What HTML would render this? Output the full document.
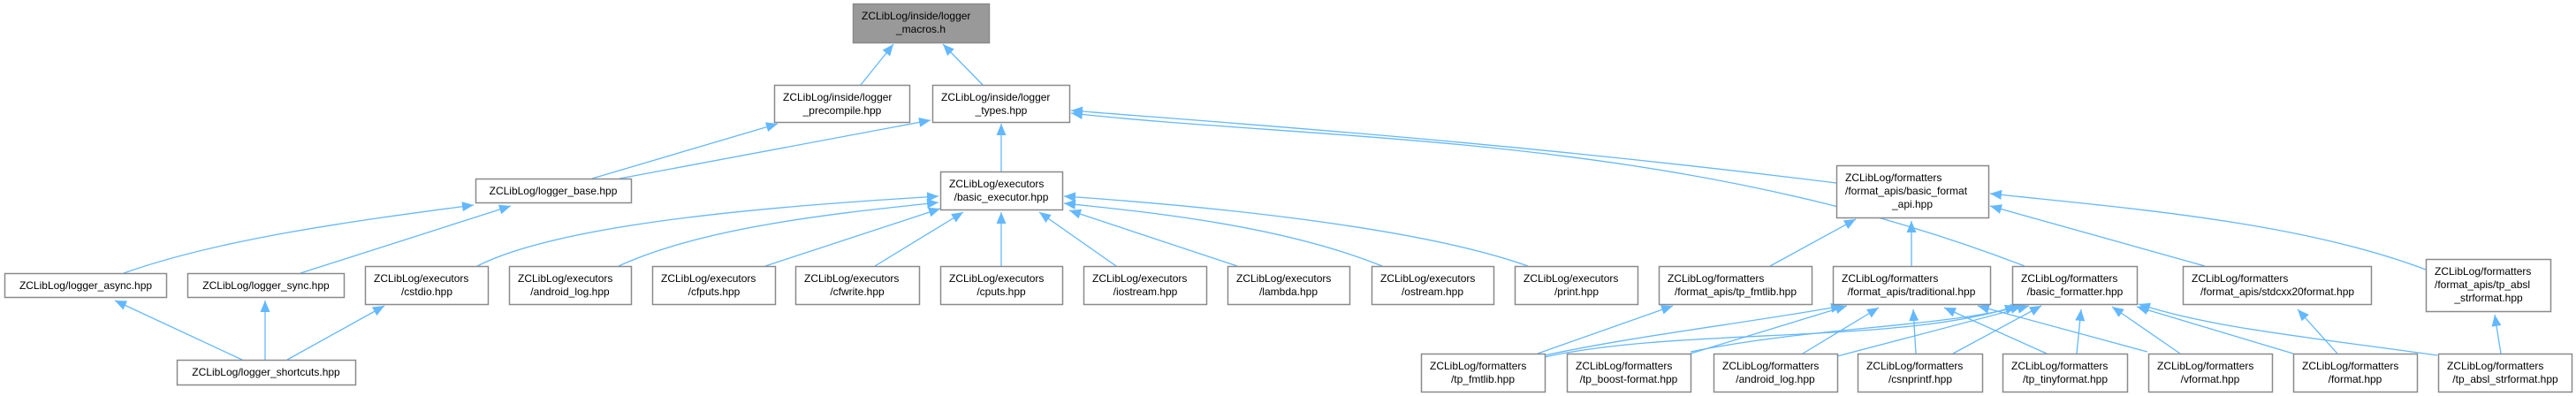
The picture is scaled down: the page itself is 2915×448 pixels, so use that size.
<!DOCTYPE html>
<html><head><meta charset="utf-8"><style>
html,body{margin:0;padding:0;background:#fff;}
svg{display:block;}
text{font-family:"Liberation Sans",Arial,sans-serif;font-size:12px;fill:#000;}
</style></head><body>
<svg width="2915" height="448" viewBox="0 0 2915 448" xmlns="http://www.w3.org/2000/svg">
<defs>
<marker id="a" markerUnits="userSpaceOnUse" markerWidth="14" markerHeight="12" refX="13" refY="5.5" orient="auto">
<path d="M0,0 L13,5.5 L0,11 z" fill="#63b8ff"/>
</marker>
</defs>
<g fill="none" stroke="#63b8ff" stroke-width="1.3" marker-end="url(#a)">
<path d="M974,96 L1011,50"/>
<path d="M1112,96 L1067,50"/>
<path d="M670,202 L880,140"/>
<path d="M701,202 L1053,136"/>
<path d="M1133,194 L1133,140"/>
<path d="M2078,207 C1700,160 1400,140 1212,125"/>
<path d="M2291,301 C1900,150 1500,160 1212,128"/>
<path d="M140,309 C250,270 400,250 536,232"/>
<path d="M340,309 L578,233"/>
<path d="M274,407 L130,340"/>
<path d="M300,407 L300,340"/>
<path d="M325,407 L435,346"/>
<path d="M540,301 C640,250 900,232 1062,222"/>
<path d="M700,301 C800,255 960,240 1062,229"/>
<path d="M866,301 L1064,236"/>
<path d="M990,301 L1090,240"/>
<path d="M1133,301 L1133,240"/>
<path d="M1263,301 L1176,240"/>
<path d="M1400,301 L1210,238"/>
<path d="M1564,301 C1450,255 1300,240 1204,230"/>
<path d="M1729,301 C1600,255 1350,232 1204,222"/>
<path d="M2003,301 L2100,248"/>
<path d="M2163,301 L2163,250"/>
<path d="M2495,301 L2252,233"/>
<path d="M2745,305 C2600,250 2400,235 2252,219"/>
<path d="M1740,400 L1893,346"/>
<path d="M1748,402 C1850,380 1980,365 2085,346"/>
<path d="M1748,404 C1900,370 2150,390 2282,346"/>
<path d="M1913,400 L2090,346"/>
<path d="M1913,398 C2050,370 2200,370 2288,346"/>
<path d="M2040,400 L2126,348"/>
<path d="M2079,403 L2296,346"/>
<path d="M2168,400 L2165,350"/>
<path d="M2210,400 L2310,346"/>
<path d="M2316,400 L2200,348"/>
<path d="M2350,400 L2355,350"/>
<path d="M2430,398 L2238,346"/>
<path d="M2467,400 L2390,347"/>
<path d="M2595,400 L2418,347"/>
<path d="M2645,400 L2600,350"/>
<path d="M2758,402 C2600,380 2500,370 2420,344"/>
<path d="M2830,400 L2823,356"/>
</g>
<g stroke="#8a8a8a" stroke-width="1.5" fill="#fff">
<rect x="965.5" y="4.5" width="154" height="44" fill="#999"/>
<rect x="876.5" y="96.5" width="153" height="42"/>
<rect x="1055.5" y="96.5" width="155" height="42"/>
<rect x="538.5" y="202.5" width="176" height="27"/>
<rect x="1064.5" y="194.5" width="138" height="43"/>
<rect x="2078.5" y="187.5" width="172" height="59"/>
<rect x="5.5" y="309.5" width="183" height="27"/>
<rect x="212.5" y="309.5" width="177" height="27"/>
<rect x="413.5" y="301.5" width="139" height="43"/>
<rect x="576.5" y="301.5" width="138" height="43"/>
<rect x="738.5" y="301.5" width="139" height="43"/>
<rect x="900.5" y="301.5" width="140" height="43"/>
<rect x="1064.5" y="301.5" width="138" height="43"/>
<rect x="1226.5" y="301.5" width="139" height="43"/>
<rect x="1389.5" y="301.5" width="138" height="43"/>
<rect x="1552.5" y="301.5" width="138" height="43"/>
<rect x="1714.5" y="301.5" width="139" height="43"/>
<rect x="1877.5" y="301.5" width="173" height="43"/>
<rect x="2074.5" y="301.5" width="178" height="43"/>
<rect x="2277.5" y="301.5" width="141" height="43"/>
<rect x="2470.5" y="301.5" width="213" height="43"/>
<rect x="2745.5" y="293.5" width="141" height="59"/>
<rect x="200.5" y="407.5" width="202" height="28"/>
<rect x="1608.5" y="400.5" width="140" height="43"/>
<rect x="1773.5" y="400.5" width="140" height="43"/>
<rect x="1939.5" y="400.5" width="140" height="43"/>
<rect x="2102.5" y="400.5" width="141" height="43"/>
<rect x="2266.5" y="400.5" width="141" height="43"/>
<rect x="2431.5" y="400.5" width="140" height="43"/>
<rect x="2595.5" y="400.5" width="140" height="43"/>
<rect x="2759.5" y="400.5" width="151" height="43"/>
</g>
<g>
<text x="975" y="22">ZCLibLog/inside/logger</text><text x="1042" y="37" text-anchor="middle">_macros.h</text>
<text x="886" y="114">ZCLibLog/inside/logger</text><text x="953" y="129" text-anchor="middle">_precompile.hpp</text>
<text x="1065" y="114">ZCLibLog/inside/logger</text><text x="1133" y="129" text-anchor="middle">_types.hpp</text>
<text x="626" y="220" text-anchor="middle">ZCLibLog/logger_base.hpp</text>
<text x="1074" y="212">ZCLibLog/executors</text><text x="1133" y="227" text-anchor="middle">/basic_executor.hpp</text>
<text x="2088" y="205">ZCLibLog/formatters</text><text x="2088" y="220">/format_apis/basic_format</text><text x="2164" y="235" text-anchor="middle">_api.hpp</text>
<text x="97" y="327" text-anchor="middle">ZCLibLog/logger_async.hpp</text>
<text x="301" y="327" text-anchor="middle">ZCLibLog/logger_sync.hpp</text>
<text x="423" y="319">ZCLibLog/executors</text><text x="483" y="334" text-anchor="middle">/cstdio.hpp</text>
<text x="586" y="319">ZCLibLog/executors</text><text x="645" y="334" text-anchor="middle">/android_log.hpp</text>
<text x="748" y="319">ZCLibLog/executors</text><text x="808" y="334" text-anchor="middle">/cfputs.hpp</text>
<text x="910" y="319">ZCLibLog/executors</text><text x="970" y="334" text-anchor="middle">/cfwrite.hpp</text>
<text x="1074" y="319">ZCLibLog/executors</text><text x="1133" y="334" text-anchor="middle">/cputs.hpp</text>
<text x="1236" y="319">ZCLibLog/executors</text><text x="1296" y="334" text-anchor="middle">/iostream.hpp</text>
<text x="1399" y="319">ZCLibLog/executors</text><text x="1458" y="334" text-anchor="middle">/lambda.hpp</text>
<text x="1562" y="319">ZCLibLog/executors</text><text x="1621" y="334" text-anchor="middle">/ostream.hpp</text>
<text x="1724" y="319">ZCLibLog/executors</text><text x="1784" y="334" text-anchor="middle">/print.hpp</text>
<text x="1887" y="319">ZCLibLog/formatters</text><text x="1964" y="334" text-anchor="middle">/format_apis/tp_fmtlib.hpp</text>
<text x="2084" y="319">ZCLibLog/formatters</text><text x="2163" y="334" text-anchor="middle">/format_apis/traditional.hpp</text>
<text x="2287" y="319">ZCLibLog/formatters</text><text x="2348" y="334" text-anchor="middle">/basic_formatter.hpp</text>
<text x="2480" y="319">ZCLibLog/formatters</text><text x="2577" y="334" text-anchor="middle">/format_apis/stdcxx20format.hpp</text>
<text x="2755" y="311">ZCLibLog/formatters</text><text x="2755" y="326">/format_apis/tp_absl</text><text x="2816" y="341" text-anchor="middle">_strformat.hpp</text>
<text x="301" y="425" text-anchor="middle">ZCLibLog/logger_shortcuts.hpp</text>
<text x="1618" y="418">ZCLibLog/formatters</text><text x="1678" y="433" text-anchor="middle">/tp_fmtlib.hpp</text>
<text x="1783" y="418">ZCLibLog/formatters</text><text x="1843" y="433" text-anchor="middle">/tp_boost-format.hpp</text>
<text x="1949" y="418">ZCLibLog/formatters</text><text x="2009" y="433" text-anchor="middle">/android_log.hpp</text>
<text x="2112" y="418">ZCLibLog/formatters</text><text x="2173" y="433" text-anchor="middle">/csnprintf.hpp</text>
<text x="2276" y="418">ZCLibLog/formatters</text><text x="2337" y="433" text-anchor="middle">/tp_tinyformat.hpp</text>
<text x="2441" y="418">ZCLibLog/formatters</text><text x="2501" y="433" text-anchor="middle">/vformat.hpp</text>
<text x="2605" y="418">ZCLibLog/formatters</text><text x="2665" y="433" text-anchor="middle">/format.hpp</text>
<text x="2769" y="418">ZCLibLog/formatters</text><text x="2835" y="433" text-anchor="middle">/tp_absl_strformat.hpp</text>
</g>
</svg>
</body></html>
